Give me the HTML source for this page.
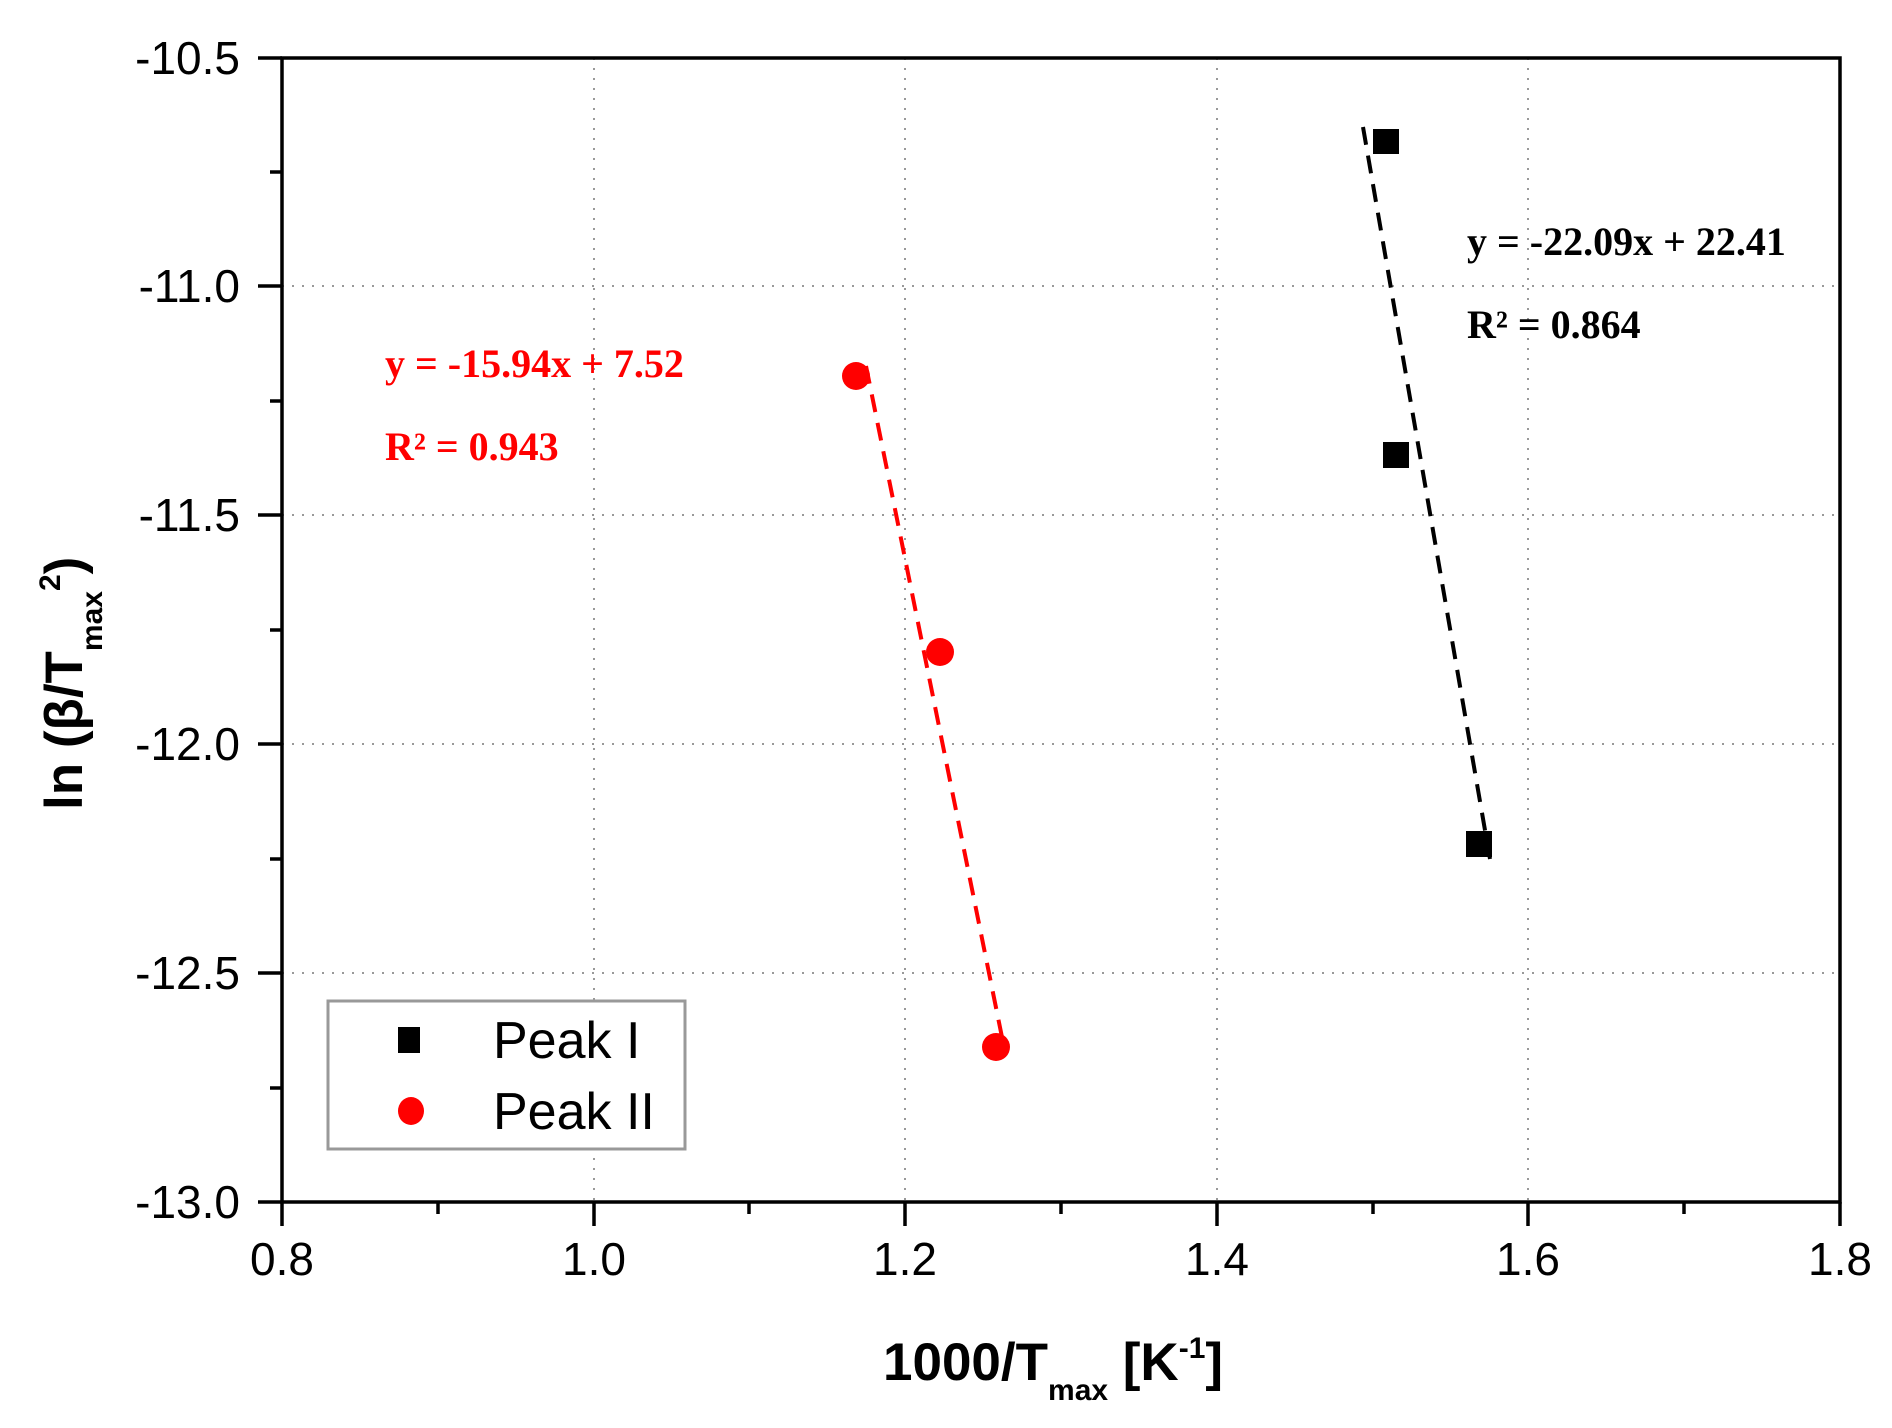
<!DOCTYPE html>
<html><head><meta charset="utf-8"><style>html,body{margin:0;padding:0;background:#fff}</style></head>
<body>
<svg width="1892" height="1423" viewBox="0 0 1892 1423" xmlns="http://www.w3.org/2000/svg">
<rect width="1892" height="1423" fill="#fff"/>
<g stroke="#999" stroke-width="2" stroke-dasharray="2,8">
<line x1="594" y1="58" x2="594" y2="1202"/>
<line x1="905" y1="58" x2="905" y2="1202"/>
<line x1="1217" y1="58" x2="1217" y2="1202"/>
<line x1="1528" y1="58" x2="1528" y2="1202"/>
<line x1="282" y1="286" x2="1840" y2="286"/>
<line x1="282" y1="515" x2="1840" y2="515"/>
<line x1="282" y1="744" x2="1840" y2="744"/>
<line x1="282" y1="973" x2="1840" y2="973"/>
</g>
<rect x="282" y="58" width="1558" height="1144" fill="none" stroke="#000" stroke-width="3.5"/>
<g stroke="#000" stroke-width="3.5">
<line x1="282" y1="1202" x2="282" y2="1226"/><line x1="594" y1="1202" x2="594" y2="1226"/><line x1="905" y1="1202" x2="905" y2="1226"/><line x1="1217" y1="1202" x2="1217" y2="1226"/><line x1="1528" y1="1202" x2="1528" y2="1226"/><line x1="1840" y1="1202" x2="1840" y2="1226"/>
<line x1="438" y1="1202" x2="438" y2="1214"/><line x1="749" y1="1202" x2="749" y2="1214"/><line x1="1061" y1="1202" x2="1061" y2="1214"/><line x1="1373" y1="1202" x2="1373" y2="1214"/><line x1="1684" y1="1202" x2="1684" y2="1214"/>
<line x1="258" y1="58" x2="282" y2="58"/><line x1="258" y1="286" x2="282" y2="286"/><line x1="258" y1="515" x2="282" y2="515"/><line x1="258" y1="744" x2="282" y2="744"/><line x1="258" y1="973" x2="282" y2="973"/><line x1="258" y1="1202" x2="282" y2="1202"/>
<line x1="270" y1="172" x2="282" y2="172"/><line x1="270" y1="401" x2="282" y2="401"/><line x1="270" y1="630" x2="282" y2="630"/><line x1="270" y1="859" x2="282" y2="859"/><line x1="270" y1="1088" x2="282" y2="1088"/>
</g>
<g font-family="Liberation Sans, Arial, sans-serif" font-size="46" fill="#000">
<g text-anchor="end">
<text x="240" y="74">-10.5</text><text x="240" y="302">-11.0</text><text x="240" y="531">-11.5</text><text x="240" y="760">-12.0</text><text x="240" y="989">-12.5</text><text x="240" y="1218">-13.0</text>
</g>
<g text-anchor="middle">
<text x="282" y="1275">0.8</text><text x="594" y="1275">1.0</text><text x="905" y="1275">1.2</text><text x="1217" y="1275">1.4</text><text x="1528" y="1275">1.6</text><text x="1840" y="1275">1.8</text>
</g>
</g>
<text x="883" y="1380" font-family="Liberation Sans, Arial, sans-serif" font-weight="bold" font-size="53">1000/T<tspan font-size="30" dy="20">max</tspan><tspan dy="-20"> [K</tspan><tspan font-size="30" dy="-22">-1</tspan><tspan dy="22">]</tspan></text>
<text transform="translate(82,810) rotate(-90)" font-family="Liberation Sans, Arial, sans-serif" font-weight="bold" font-size="53">ln (β/T<tspan font-size="30" dy="20">max</tspan><tspan font-size="30" dy="-42">2</tspan><tspan dy="22">)</tspan></text>
<line x1="1363" y1="127" x2="1490" y2="859" stroke="#000" stroke-width="4" stroke-dasharray="18,11"/>
<line x1="866" y1="366" x2="1005" y2="1052" stroke="#f00" stroke-width="4" stroke-dasharray="18,11"/>
<g fill="#000"><rect x="1373" y="129" width="26" height="25"/><rect x="1383" y="442" width="26" height="26"/><rect x="1466" y="831" width="26" height="26"/></g>
<g fill="#f00"><circle cx="856" cy="376" r="14"/><circle cx="940" cy="652" r="14"/><circle cx="996" cy="1047" r="14"/></g>
<g font-family="Liberation Serif, Times New Roman, serif" font-weight="bold" font-size="40">
<text x="1467" y="255" fill="#000">y = -22.09x + 22.41</text>
<text x="1467" y="338" fill="#000">R² = 0.864</text>
<text x="385" y="377" fill="#f00">y = -15.94x + 7.52</text>
<text x="385" y="460" fill="#f00">R² = 0.943</text>
</g>
<rect x="328" y="1001" width="357" height="148" fill="#fff" stroke="#999" stroke-width="3"/>
<rect x="398" y="1027" width="22" height="26" fill="#000"/>
<ellipse cx="411" cy="1111" rx="13" ry="14" fill="#f00"/>
<g font-family="Liberation Sans, Arial, sans-serif" font-size="52" fill="#000">
<text x="493" y="1058">Peak I</text>
<text x="493" y="1129">Peak II</text>
</g>
</svg>
</body></html>
